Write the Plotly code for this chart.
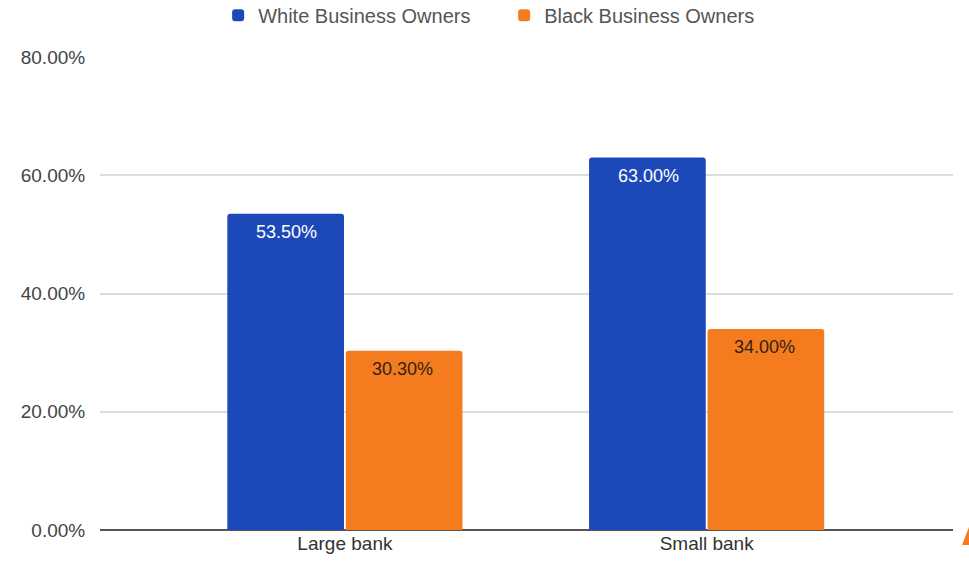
import plotly.graph_objects as go

categories = ["Large bank", "Small bank"]
white_owners = [53.5, 63.0]
black_owners = [30.3, 34.0]
y_ticks = [0, 20, 40, 60, 80]

BLUE = "#1C48B8"
ORANGE = "#F47B1E"
FONT = "Liberation Sans, Arial, sans-serif"

fig = go.Figure()
fig.add_trace(go.Bar(
    name="White Business Owners", x=categories, y=white_owners,
    marker=dict(color=BLUE, line=dict(width=0)),
))
fig.add_trace(go.Bar(
    name="Black Business Owners", x=categories, y=black_owners,
    marker=dict(color=ORANGE, line=dict(width=0)),
))

# value labels just inside the top of each bar
labels = []
for series, shift, color in ((white_owners, -58, "white"), (black_owners, 58, "#2e2416")):
    for cat, val in zip(categories, series):
        labels.append(dict(
            x=cat, y=val, xref="x", yref="y", text=f"{val:.2f}%",
            showarrow=False, xshift=shift, yshift=-18, yanchor="middle",
            font=dict(family=FONT, size=18, color=color),
        ))

fig.update_layout(
    width=969, height=563,
    margin=dict(l=100, r=16, t=57, b=33, autoexpand=False),
    paper_bgcolor="white", plot_bgcolor="white",
    barmode="group", bargap=0.345, bargroupgap=0.015, barcornerradius=3,
    font=dict(family=FONT, size=18, color="#444444"),
    showlegend=True,
    legend=dict(orientation="h", x=0.1385, xanchor="left", y=0.973, yanchor="middle",
                yref="container", font=dict(size=20, color="#555555"),
                itemwidth=30, entrywidth=241, traceorder="normal"),
    xaxis=dict(range=[-0.677, 1.681], showgrid=False, ticks="", showline=False,
               tickfont=dict(size=19, color="#333333")),
    yaxis=dict(range=[0, 80], tickvals=y_ticks, ticktext=[f"{v:.2f}%" for v in y_ticks],
               showgrid=True, gridcolor="#DDDDDD", gridwidth=1.5,
               zeroline=True, zerolinecolor="#555555", zerolinewidth=1.5,
               ticks="outside", ticklen=10, tickcolor="white",
               tickfont=dict(size=19, color="#444444")),
    annotations=labels,
    shapes=[dict(type="path", xref="paper", yref="paper",
                 path="M 1.0106 -0.0317 L 1.0188 -0.0317 L 1.0188 0.0064 Z",
                 fillcolor=ORANGE, line=dict(width=0))],
)

fig.write_html("out.html")
